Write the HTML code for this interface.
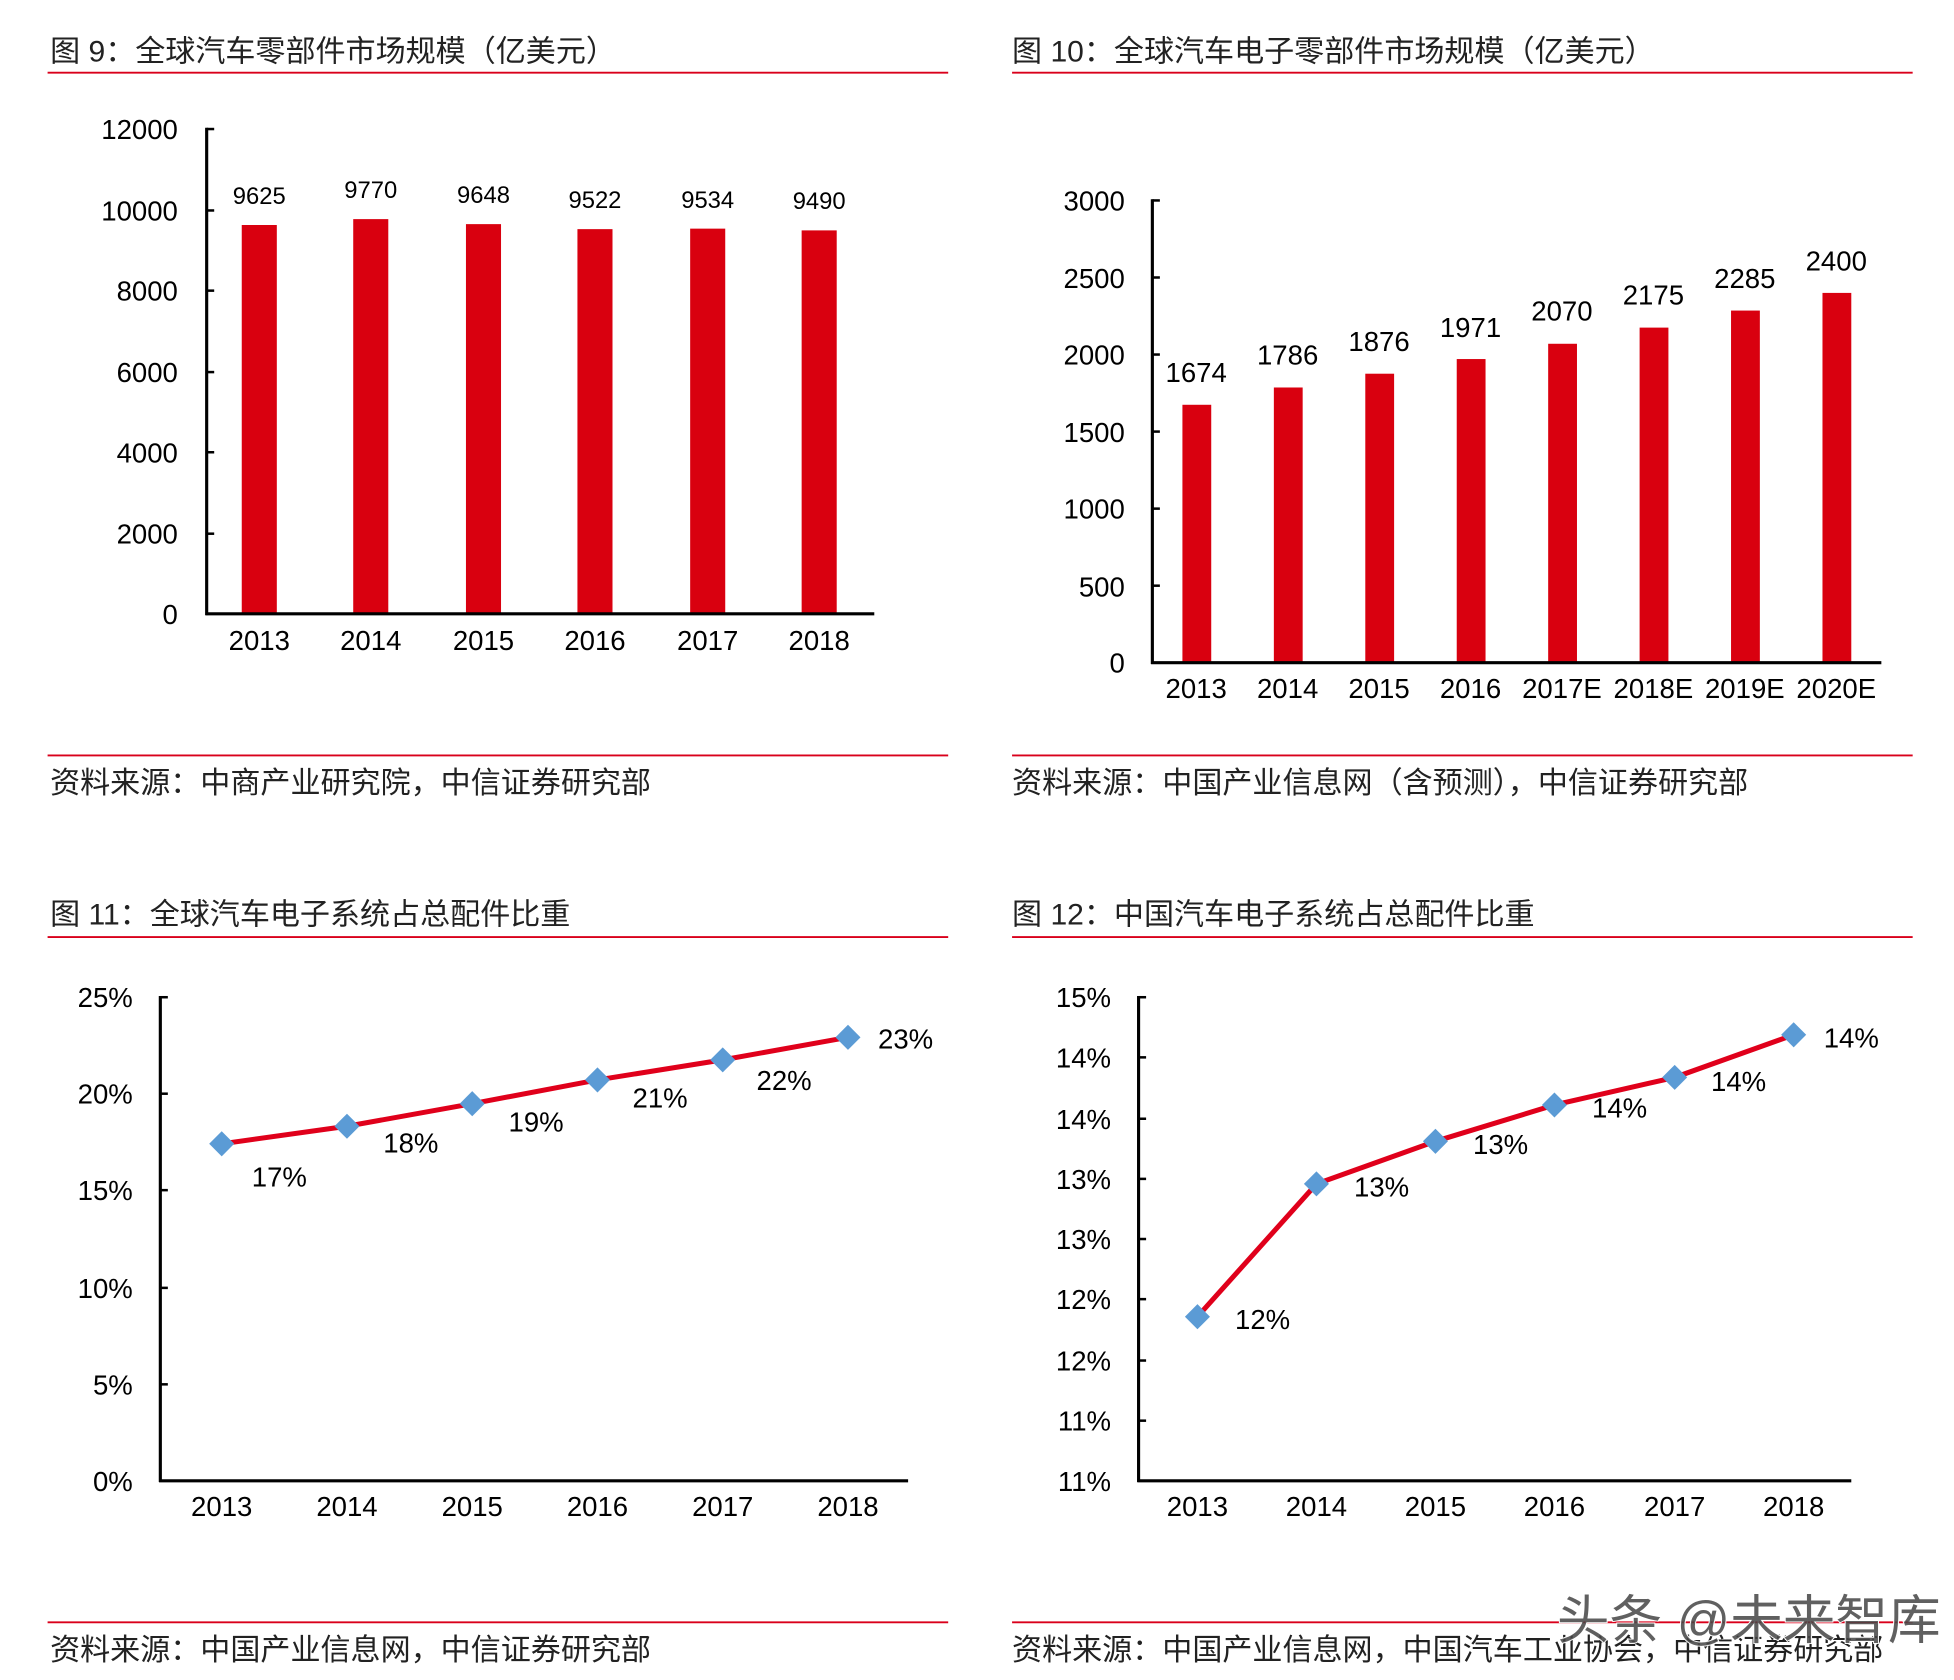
<!DOCTYPE html>
<html><head><meta charset="utf-8"><style>
html,body{margin:0;padding:0;background:#fff;}
svg{display:block;}
text{font-family:"Liberation Sans","Noto Sans CJK SC",sans-serif;fill:#000;}
.t{font-size:24px;fill:#222;}
</style></head><body>
<svg width="1954" height="1680" viewBox="0 0 1560 1341" preserveAspectRatio="none" xmlns="http://www.w3.org/2000/svg">
<rect width="1560" height="1341" fill="#fff"/>
<!-- Chart 1 -->
<text class="t" x="40" y="49">图 9：全球汽车零部件市场规模（亿美元）</text>
<line x1="38" y1="58" x2="757" y2="58" stroke="#d9001b" stroke-width="1.5"/>
<g fill="#d9000f">
<rect x="193" y="179.6" width="28" height="310.4"/>
<rect x="282" y="174.9" width="28" height="315.1"/>
<rect x="372" y="178.9" width="28" height="311.1"/>
<rect x="461" y="182.9" width="28" height="307.1"/>
<rect x="551" y="182.5" width="28" height="307.5"/>
<rect x="640" y="183.9" width="28" height="306.1"/>
</g>
<g stroke="#000" stroke-width="2.5"><line x1="165" y1="102" x2="165" y2="491"/><line x1="164" y1="490" x2="698" y2="490"/></g>
<g stroke="#000" stroke-width="2"><line x1="165" y1="103" x2="171" y2="103"/><line x1="165" y1="168" x2="171" y2="168"/><line x1="165" y1="232" x2="171" y2="232"/><line x1="165" y1="297" x2="171" y2="297"/><line x1="165" y1="361" x2="171" y2="361"/><line x1="165" y1="426" x2="171" y2="426"/></g>
<g text-anchor="end" font-size="22"><text x="142" y="111">12000</text><text x="142" y="176">10000</text><text x="142" y="240">8000</text><text x="142" y="305">6000</text><text x="142" y="369">4000</text><text x="142" y="434">2000</text><text x="142" y="498">0</text></g>
<g text-anchor="middle" font-size="19"><text x="207" y="163">9625</text><text x="296" y="158">9770</text><text x="386" y="162">9648</text><text x="475" y="166">9522</text><text x="565" y="166">9534</text><text x="654" y="167">9490</text></g>
<g text-anchor="middle" font-size="22"><text x="207" y="519">2013</text><text x="296" y="519">2014</text><text x="386" y="519">2015</text><text x="475" y="519">2016</text><text x="565" y="519">2017</text><text x="654" y="519">2018</text></g>
<line x1="38" y1="603" x2="757" y2="603" stroke="#d9001b" stroke-width="1.5"/>
<text class="t" x="40" y="633">资料来源：中商产业研究院，中信证券研究部</text>

<!-- Chart 2 -->
<text class="t" x="808" y="49">图 10：全球汽车电子零部件市场规模（亿美元）</text>
<line x1="808" y1="58" x2="1527" y2="58" stroke="#d9001b" stroke-width="1.5"/>
<g fill="#d9000f">
<rect x="944" y="323.1" width="23" height="205.9"/>
<rect x="1017" y="309.3" width="23" height="219.7"/>
<rect x="1090" y="298.3" width="23" height="230.7"/>
<rect x="1163" y="286.6" width="23" height="242.4"/>
<rect x="1236" y="274.4" width="23" height="254.6"/>
<rect x="1309" y="261.5" width="23" height="267.5"/>
<rect x="1382" y="247.9" width="23" height="281.1"/>
<rect x="1455" y="233.8" width="23" height="295.2"/>
</g>
<g stroke="#000" stroke-width="2.5"><line x1="920" y1="159" x2="920" y2="530"/><line x1="919" y1="529" x2="1502" y2="529"/></g>
<g stroke="#000" stroke-width="2"><line x1="920" y1="160" x2="926" y2="160"/><line x1="920" y1="221.5" x2="926" y2="221.5"/><line x1="920" y1="283" x2="926" y2="283"/><line x1="920" y1="344.5" x2="926" y2="344.5"/><line x1="920" y1="406" x2="926" y2="406"/><line x1="920" y1="467.5" x2="926" y2="467.5"/></g>
<g text-anchor="end" font-size="22"><text x="898" y="168">3000</text><text x="898" y="230">2500</text><text x="898" y="291">2000</text><text x="898" y="353">1500</text><text x="898" y="414">1000</text><text x="898" y="476">500</text><text x="898" y="537">0</text></g>
<g text-anchor="middle" font-size="22"><text x="955" y="305">1674</text><text x="1028" y="291">1786</text><text x="1101" y="280">1876</text><text x="1174" y="269">1971</text><text x="1247" y="256">2070</text><text x="1320" y="243">2175</text><text x="1393" y="230">2285</text><text x="1466" y="216">2400</text></g>
<g text-anchor="middle" font-size="22"><text x="955" y="557">2013</text><text x="1028" y="557">2014</text><text x="1101" y="557">2015</text><text x="1174" y="557">2016</text><text x="1247" y="557">2017E</text><text x="1320" y="557">2018E</text><text x="1393" y="557">2019E</text><text x="1466" y="557">2020E</text></g>
<line x1="808" y1="603" x2="1527" y2="603" stroke="#d9001b" stroke-width="1.5"/>
<text class="t" x="808" y="633">资料来源：中国产业信息网（含预测），中信证券研究部</text>

<!-- Chart 3 -->
<text class="t" x="40" y="738">图 11：全球汽车电子系统占总配件比重</text>
<line x1="38" y1="748" x2="757" y2="748" stroke="#d9001b" stroke-width="1.5"/>
<g stroke="#000" stroke-width="2.5"><line x1="128" y1="795" x2="128" y2="1183"/><line x1="127" y1="1182" x2="725" y2="1182"/></g>
<g stroke="#000" stroke-width="2"><line x1="128" y1="796" x2="134" y2="796"/><line x1="128" y1="873" x2="134" y2="873"/><line x1="128" y1="950" x2="134" y2="950"/><line x1="128" y1="1028" x2="134" y2="1028"/><line x1="128" y1="1105" x2="134" y2="1105"/></g>
<g text-anchor="end" font-size="22"><text x="106" y="804">25%</text><text x="106" y="881">20%</text><text x="106" y="958">15%</text><text x="106" y="1036">10%</text><text x="106" y="1113">5%</text><text x="106" y="1190">0%</text></g>
<polyline points="177,913 277,899 377,881 477,862 577,846 677,828" fill="none" stroke="#e0001b" stroke-width="4"/>
<g fill="#5b9bd5"><path d="M177 903 L187 913 L177 923 L167 913Z"/><path d="M277 889 L287 899 L277 909 L267 899Z"/><path d="M377 871 L387 881 L377 891 L367 881Z"/><path d="M477 852 L487 862 L477 872 L467 862Z"/><path d="M577 836 L587 846 L577 856 L567 846Z"/><path d="M677 818 L687 828 L677 838 L667 828Z"/></g>
<g font-size="22"><text x="201" y="947">17%</text><text x="306" y="920">18%</text><text x="406" y="903">19%</text><text x="505" y="884">21%</text><text x="604" y="870">22%</text><text x="701" y="837">23%</text></g>
<g text-anchor="middle" font-size="22"><text x="177" y="1210">2013</text><text x="277" y="1210">2014</text><text x="377" y="1210">2015</text><text x="477" y="1210">2016</text><text x="577" y="1210">2017</text><text x="677" y="1210">2018</text></g>
<line x1="38" y1="1295" x2="757" y2="1295" stroke="#d9001b" stroke-width="1.5"/>
<text class="t" x="40" y="1325">资料来源：中国产业信息网，中信证券研究部</text>

<!-- Chart 4 -->
<text class="t" x="808" y="738">图 12：中国汽车电子系统占总配件比重</text>
<line x1="808" y1="748" x2="1527" y2="748" stroke="#d9001b" stroke-width="1.5"/>
<g stroke="#000" stroke-width="2.5"><line x1="909" y1="795" x2="909" y2="1183"/><line x1="908" y1="1182" x2="1478" y2="1182"/></g>
<g stroke="#000" stroke-width="2"><line x1="909" y1="796" x2="915" y2="796"/><line x1="909" y1="844" x2="915" y2="844"/><line x1="909" y1="893" x2="915" y2="893"/><line x1="909" y1="941" x2="915" y2="941"/><line x1="909" y1="989" x2="915" y2="989"/><line x1="909" y1="1037" x2="915" y2="1037"/><line x1="909" y1="1086" x2="915" y2="1086"/><line x1="909" y1="1134" x2="915" y2="1134"/></g>
<g text-anchor="end" font-size="22"><text x="887" y="804">15%</text><text x="887" y="852">14%</text><text x="887" y="901">14%</text><text x="887" y="949">13%</text><text x="887" y="997">13%</text><text x="887" y="1045">12%</text><text x="887" y="1094">12%</text><text x="887" y="1142">11%</text><text x="887" y="1190">11%</text></g>
<polyline points="956,1051 1051,945 1146,911 1241,882 1337,860 1432,826" fill="none" stroke="#e0001b" stroke-width="4"/>
<g fill="#5b9bd5"><path d="M956 1041 L966 1051 L956 1061 L946 1051Z"/><path d="M1051 935 L1061 945 L1051 955 L1041 945Z"/><path d="M1146 901 L1156 911 L1146 921 L1136 911Z"/><path d="M1241 872 L1251 882 L1241 892 L1231 882Z"/><path d="M1337 850 L1347 860 L1337 870 L1327 860Z"/><path d="M1432 816 L1442 826 L1432 836 L1422 826Z"/></g>
<g font-size="22"><text x="986" y="1061">12%</text><text x="1081" y="955">13%</text><text x="1176" y="921">13%</text><text x="1271" y="892">14%</text><text x="1366" y="871">14%</text><text x="1456" y="836">14%</text></g>
<g text-anchor="middle" font-size="22"><text x="956" y="1210">2013</text><text x="1051" y="1210">2014</text><text x="1146" y="1210">2015</text><text x="1241" y="1210">2016</text><text x="1337" y="1210">2017</text><text x="1432" y="1210">2018</text></g>
<line x1="808" y1="1295" x2="1527" y2="1295" stroke="#d9001b" stroke-width="1.5"/>
<text class="t" x="808" y="1325">资料来源：中国产业信息网，中国汽车工业协会，中信证券研究部</text>
<text x="1243" y="1308" font-size="42" style="fill:#444;stroke:#fff;stroke-width:1.5;paint-order:stroke" fill-opacity="0.85">头条 @未来智库</text>
</svg>
</body></html>
